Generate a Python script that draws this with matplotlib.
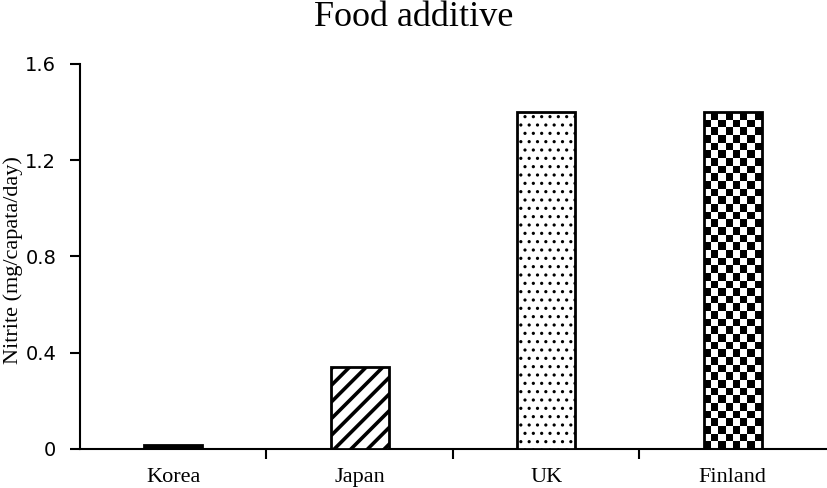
import matplotlib
matplotlib.use("Agg")
import matplotlib.pyplot as plt
import numpy as np

categories = ["Korea", "Japan", "UK", "Finland"]
values = [0.015, 0.34, 1.4, 1.4]
yticks = [0, 0.4, 0.8, 1.2, 1.6]
ytick_labels = ["0", "0.4", "0.8", "1.2", "1.6"]
title = "Food additive"
ylabel = "Nitrite (mg/capata/day)"

fig = plt.figure(figsize=(8.27, 4.88), dpi=100)
ax = fig.add_axes([0.0967, 0.08, 0.902, 0.789])

x = np.arange(len(categories))
hatches = ["", "//", "..", ""]
faces = ["black", "white", "white", "white"]
hlw = [1.0, 2.6, 1.1, 1.0]
bars = []
for i, (xi, v) in enumerate(zip(x, values)):
    with plt.rc_context({"hatch.linewidth": hlw[i], "hatch.color": "black"}):
        b = ax.bar(xi, v, width=0.31, color=faces[i], edgecolor="black",
                   linewidth=2.0, hatch=hatches[i], zorder=3)
    bars.append(b[0])

# checkerboard fill for Finland, clipped to its bar
fb = bars[3]
bx0, by0 = fb.get_x(), fb.get_y()
bw, bh = fb.get_width(), fb.get_height()
nx, ny = 8, 44
checker = (np.add.outer(np.arange(ny), np.arange(nx)) % 2).astype(float)
im = ax.imshow(checker, cmap="gray", extent=(bx0, bx0 + bw, by0, by0 + bh),
               aspect="auto", interpolation="nearest", zorder=2.5, origin="lower")
im.set_clip_path(fb)
fb.set_facecolor("none")

ax.set_xlim(-0.5, len(categories) - 0.5)
ax.set_ylim(0, 1.6)
ax.set_yticks(yticks)
ax.set_yticklabels(ytick_labels, fontsize=14, family="DejaVu Sans")
ax.set_xticks(x)
ax.set_xticklabels(categories, fontsize=16, family="Liberation Serif")
ax.tick_params(axis="x", length=0, pad=14)
ax.tick_params(axis="y", direction="out", length=7, width=1.5, pad=10)
ax.set_xticks(np.arange(0.5, len(categories) - 0.5, 1.0), minor=True)
ax.tick_params(axis="x", which="minor", direction="out", length=7, width=1.5)

for s in ["top", "right"]:
    ax.spines[s].set_visible(False)
for s in ["left", "bottom"]:
    ax.spines[s].set_linewidth(1.5)

fig.text(13 / 827, 1 - 260 / 488, ylabel, rotation=90, ha="center", va="center",
         fontsize=16, family="Liberation Serif")
fig.text(0.5, 0.965, title, ha="center", va="center", fontsize=26,
         family="Liberation Serif")

fig.savefig("out.png", dpi=100)
